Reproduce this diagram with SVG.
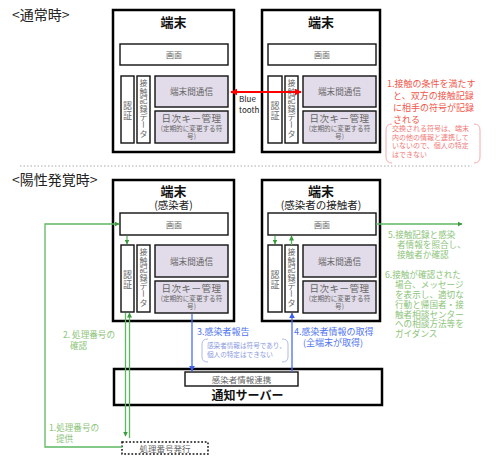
<svg xmlns="http://www.w3.org/2000/svg" width="500" height="462" viewBox="0 0 500 462">
<defs>
<style>
text{font-family:"Noto Sans CJK JP","Noto Sans",sans-serif}
.outer{fill:#fff;stroke:#000;stroke-width:2.5}
.inner{fill:#fff;stroke:#111;stroke-width:1.4}
.lav{fill:#e2dcea;stroke:#111;stroke-width:1.4}
.title{font-size:13px;font-weight:bold;fill:#111;text-anchor:middle}
.sub{font-size:10.5px;fill:#222;text-anchor:middle}
.g{fill:#666;text-anchor:middle}
.vc{fill:#666;text-anchor:middle;dominant-baseline:central;font-size:8px}
.va{fill:#666;text-anchor:middle;dominant-baseline:central;font-size:9px}
.red{fill:#f0564a;font-size:9px}
.redS{fill:#f07a78;font-size:7px}
.grn{fill:#8cc47a;font-size:8.6px}
.blu{fill:#4f73f0;font-size:9px}
.bluS{fill:#8a9ae0;font-size:6.6px}
.gl{stroke:#5cb860;stroke-width:1.3;fill:none}
.bl{stroke:#4a6cf5;stroke-width:1.3;fill:none}
</style>
<marker id="ag" viewBox="0 0 10 10" refX="9" refY="5" markerWidth="5" markerHeight="5" markerUnits="userSpaceOnUse" orient="auto"><path d="M0,0 L10,5 L0,10 z" fill="#3a9a3e"/></marker>
<marker id="ab" viewBox="0 0 10 10" refX="9" refY="5" markerWidth="6" markerHeight="6" markerUnits="userSpaceOnUse" orient="auto"><path d="M0,0 L10,5 L0,10 z" fill="#3c5ef0"/></marker>
<marker id="ar" viewBox="0 0 10 10" refX="9" refY="5" markerWidth="7" markerHeight="7" markerUnits="userSpaceOnUse" orient="auto-start-reverse"><path d="M0,0 L10,5 L0,10 z" fill="#f00"/></marker>
</defs>
<rect width="500" height="462" fill="#fff"/>

<text x="12" y="20" font-size="14" fill="#222">&lt;通常時&gt;</text>
<text x="12" y="185" font-size="14" fill="#222">&lt;陽性発覚時&gt;</text>
<line x1="20" y1="166" x2="472" y2="166" stroke="#aaa" stroke-width="1" stroke-dasharray="1.5 2"/>

<g id="terminal-a">
<rect class="outer" x="113" y="10" width="121" height="142"/>
<text class="title" x="173.5" y="27">端末</text>
<rect class="inner" x="120" y="44" width="108" height="21"/>
<text class="g" x="174" y="58" font-size="8">画面</text>
<rect class="inner" x="121" y="76" width="13" height="67"/>
<text class="va"><tspan x="127.5" y="105">認</tspan><tspan x="127.5" y="115">証</tspan></text>
<rect class="inner" x="137" y="76" width="13" height="67"/>
<text class="vc"><tspan x="143.5" y="82">接</tspan><tspan x="143.5" y="90.5">触</tspan><tspan x="143.5" y="99">記</tspan><tspan x="143.5" y="107.5">録</tspan><tspan x="143.5" y="116">デ</tspan><tspan x="143.5" y="133">タ</tspan></text>
<text class="vc" x="143.5" y="124.5" transform="rotate(90 143.5 124.5)">ー</text>
<rect class="lav" x="155" y="76" width="73" height="31"/>
<text class="g" x="191.5" y="95" font-size="8.6">端末間通信</text>
<rect class="lav" x="155" y="111" width="73" height="32"/>
<text class="g" x="191.5" y="122" font-size="9.5" letter-spacing="0.5">日次キー管理</text>
<text class="g" font-size="6.6"><tspan x="191.5" y="131">(定期的に変更する符</tspan><tspan x="191.5" y="139">号)</tspan></text>
</g>

<g id="terminal-b">
<rect class="outer" x="262" y="10" width="118" height="142"/>
<text class="title" x="321" y="27">端末</text>
<rect class="inner" x="268" y="44" width="108" height="21"/>
<text class="g" x="322" y="58" font-size="8">画面</text>
<rect class="inner" x="268" y="76" width="14" height="67"/>
<text class="va"><tspan x="275" y="105">認</tspan><tspan x="275" y="115">証</tspan></text>
<rect class="inner" x="285" y="76" width="13" height="67"/>
<text class="vc"><tspan x="291.5" y="82">接</tspan><tspan x="291.5" y="90.5">触</tspan><tspan x="291.5" y="99">記</tspan><tspan x="291.5" y="107.5">録</tspan><tspan x="291.5" y="116">デ</tspan><tspan x="291.5" y="133">タ</tspan></text>
<text class="vc" x="291.5" y="124.5" transform="rotate(90 291.5 124.5)">ー</text>
<rect class="lav" x="303" y="76" width="73" height="31"/>
<text class="g" x="339.5" y="95" font-size="8.6">端末間通信</text>
<rect class="lav" x="303" y="111" width="73" height="32"/>
<text class="g" x="339.5" y="122" font-size="9.5" letter-spacing="0.5">日次キー管理</text>
<text class="g" font-size="6.6"><tspan x="339.5" y="131">(定期的に変更する符</tspan><tspan x="339.5" y="139">号)</tspan></text>
</g>

<g id="note-1">
<text class="red"><tspan x="387" y="87">1.接触の条件を満たす</tspan><tspan x="393" y="99">と、双方の接触記録</tspan><tspan x="393" y="111">に相手の符号が記録</tspan><tspan x="393" y="122.5">される</tspan></text>
<path d="M392,124 Q386,124 386,130 L386,157 Q386,163 392,163 M474,124 Q480,124 480,130 L480,157 Q480,163 474,163" fill="none" stroke="#f3a0a0" stroke-width="0.9"/>
<text class="redS"><tspan x="392" y="131">交換される符号は、端末</tspan><tspan x="392" y="139.5">内の他の情報と連携して</tspan><tspan x="392" y="148">いないので、個人の特定</tspan><tspan x="392" y="156.5">はできない</tspan></text>
</g>

<g id="terminal-infected">
<rect class="outer" x="113" y="180" width="121" height="141"/>
<text class="title" x="173.5" y="196">端末</text>
<text class="sub" x="173.5" y="208.5">(感染者)</text>
<rect class="inner" x="120" y="213" width="108" height="22"/>
<text class="g" x="174" y="227.5" font-size="8">画面</text>
<rect class="inner" x="121" y="245" width="13" height="67"/>
<text class="va"><tspan x="127.5" y="274">認</tspan><tspan x="127.5" y="284">証</tspan></text>
<rect class="inner" x="137" y="245" width="13" height="67"/>
<text class="vc"><tspan x="143.5" y="251">接</tspan><tspan x="143.5" y="259.5">触</tspan><tspan x="143.5" y="268">記</tspan><tspan x="143.5" y="276.5">録</tspan><tspan x="143.5" y="285">デ</tspan><tspan x="143.5" y="302">タ</tspan></text>
<text class="vc" x="143.5" y="293.5" transform="rotate(90 143.5 293.5)">ー</text>
<rect class="lav" x="155" y="245" width="73" height="32"/>
<text class="g" x="191.5" y="264.5" font-size="8.6">端末間通信</text>
<rect class="lav" x="155" y="281" width="73" height="32"/>
<text class="g" x="191.5" y="292" font-size="9.5" letter-spacing="0.5">日次キー管理</text>
<text class="g" font-size="6.6"><tspan x="191.5" y="301">(定期的に変更する符</tspan><tspan x="191.5" y="309">号)</tspan></text>
</g>

<g id="terminal-contact">
<rect class="outer" x="262" y="180" width="118" height="141"/>
<text class="title" x="321" y="196">端末</text>
<text class="sub" x="321" y="208.5">(感染者の接触者)</text>
<rect class="inner" x="268" y="213" width="108" height="22"/>
<text class="g" x="322" y="227.5" font-size="8">画面</text>
<rect class="inner" x="268" y="245" width="14" height="67"/>
<text class="va"><tspan x="275" y="274">認</tspan><tspan x="275" y="284">証</tspan></text>
<rect class="inner" x="285" y="245" width="13" height="67"/>
<text class="vc"><tspan x="291.5" y="251">接</tspan><tspan x="291.5" y="259.5">触</tspan><tspan x="291.5" y="268">記</tspan><tspan x="291.5" y="276.5">録</tspan><tspan x="291.5" y="285">デ</tspan><tspan x="291.5" y="302">タ</tspan></text>
<text class="vc" x="291.5" y="293.5" transform="rotate(90 291.5 293.5)">ー</text>
<rect class="lav" x="303" y="245" width="73" height="32"/>
<text class="g" x="339.5" y="264.5" font-size="8.6">端末間通信</text>
<rect class="lav" x="303" y="281" width="73" height="32"/>
<text class="g" x="339.5" y="292" font-size="9.5" letter-spacing="0.5">日次キー管理</text>
<text class="g" font-size="6.6"><tspan x="339.5" y="301">(定期的に変更する符</tspan><tspan x="339.5" y="309">号)</tspan></text>
</g>

<g id="server">
<rect class="outer" x="114" y="369" width="268" height="36"/>
<rect class="inner" x="185" y="372" width="113" height="14"/>
<text class="g" x="241.5" y="382.5" font-size="8.5" fill="#555">感染者情報連携</text>
<text x="247.5" y="400" font-size="12" font-weight="bold" fill="#111" text-anchor="middle">通知サーバー</text>
</g>

<g id="issue">
<rect x="122" y="442" width="86" height="12" fill="#fff" stroke="#111" stroke-width="1.5" stroke-dasharray="1.8 1.8"/>
<text class="g" x="165" y="451.5" font-size="8.5">処理番号発行</text>
</g>

<g id="connectors">
<line x1="231" y1="92" x2="301" y2="92" stroke="#f00" stroke-width="2" marker-start="url(#ar)" marker-end="url(#ar)"/>
<path class="gl" d="M122,447 H45 V224 H119" marker-end="url(#ag)"/>
<path class="gl" d="M127,236 V244" marker-end="url(#ag)"/>
<path class="gl" d="M125.5,313 V436" marker-end="url(#ag)"/>
<path class="gl" d="M129.5,438 V313" marker-end="url(#ag)"/>
<path class="gl" d="M275,236 V244" marker-end="url(#ag)"/>
<path class="gl" d="M291.5,245 V236" marker-end="url(#ag)"/>
<path class="gl" d="M376,224 H462" marker-end="url(#ag)"/>
<path class="bl" d="M192,314 V371" marker-end="url(#ab)"/>
<path class="bl" d="M292,372 V313" marker-end="url(#ab)"/>
</g>

<g id="labels">
<text font-family="Liberation Sans, sans-serif" font-size="8" fill="#222"><tspan x="239" y="101.5">Blue</tspan><tspan x="239" y="112.5">tooth</tspan></text>
<text class="grn"><tspan x="388" y="238">5.接触記録と感染</tspan><tspan x="397" y="248">者情報を照合し、</tspan><tspan x="397" y="258">接触者か確認</tspan></text>
<text class="grn"><tspan x="385" y="278">6.接触が確認された</tspan><tspan x="395" y="288">場合、メッセージ</tspan><tspan x="395" y="298">を表示し、適切な</tspan><tspan x="395" y="308">行動と帰国者・接</tspan><tspan x="395" y="317.5">触者相談センター</tspan><tspan x="395" y="327">への相談方法等を</tspan><tspan x="395" y="336.5">ガイダンス</tspan></text>
<text class="grn"><tspan x="63" y="338">2. 処理番号の</tspan><tspan x="70" y="348.5">確認</tspan></text>
<text class="grn"><tspan x="49" y="431">1.処理番号の</tspan><tspan x="56" y="441.5">提供</tspan></text>
<text class="blu" x="197" y="335">3.感染者報告</text>
<text class="blu" font-size="9.5"><tspan x="294" y="334.5">4.感染者情報の取得</tspan><tspan x="303" y="345.5">(全端末が取得)</tspan></text>
<path d="M208,339 Q202,339 202,344 L202,357 Q202,362 208,362 M282,339 Q288,339 288,344 L288,357 Q288,362 282,362" fill="none" stroke="#a8b2e0" stroke-width="0.9"/>
<text class="bluS"><tspan x="207" y="348">感染者情報は符号であり、</tspan><tspan x="207" y="357">個人の特定はできない</tspan></text>
</g>
</svg>
